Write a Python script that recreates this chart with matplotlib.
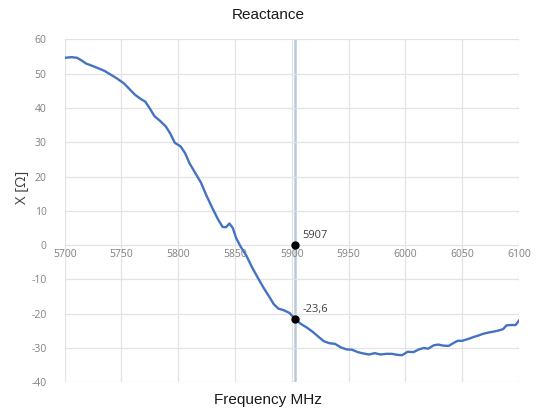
import matplotlib
matplotlib.use("Agg")
import matplotlib.pyplot as plt

freq = [5700, 5706, 5711, 5715, 5719, 5724, 5730, 5735, 5740, 5745, 5752, 5757, 5762, 5767,
        5771, 5775, 5779, 5784, 5789, 5793, 5797, 5802, 5806, 5810, 5815, 5820, 5825,
        5830, 5835, 5839, 5842, 5845, 5848, 5851, 5855, 5860, 5865, 5870, 5875, 5880,
        5884, 5888, 5893, 5898, 5903, 5908, 5913, 5918, 5923, 5928, 5933, 5938, 5943,
        5948, 5953, 5958, 5963, 5968, 5973, 5978, 5983, 5988, 5993, 5997, 6002, 6007,
        6012, 6016, 6020, 6025, 6029, 6033, 6038, 6042, 6046, 6050, 6055, 6060, 6064,
        6068, 6073, 6078, 6082, 6086, 6089, 6093, 6097, 6100]
reactance = [54.6, 54.8, 54.6, 53.8, 52.9, 52.3, 51.5, 50.8, 49.8, 48.8, 47.2, 45.5, 43.8, 42.6,
             41.8, 39.8, 37.6, 36.2, 34.6, 32.5, 29.8, 28.8, 26.8, 23.8, 21.0, 18.2, 14.3,
             10.8, 7.5, 5.3, 5.2, 6.3, 5.0, 2.0, -0.5, -3.1, -6.5, -9.5, -12.4, -15.0,
             -17.2, -18.5, -19.0, -19.8, -21.6, -23.0, -24.0, -25.2, -26.6, -28.0, -28.6,
             -28.8, -29.8, -30.4, -30.5, -31.2, -31.6, -31.9, -31.5, -31.9, -31.7, -31.7,
             -32.0, -32.1, -31.1, -31.2, -30.4, -30.0, -30.2, -29.2, -29.0, -29.3, -29.4,
             -28.6, -27.9, -27.9, -27.4, -26.8, -26.4, -25.9, -25.5, -25.2, -24.9, -24.5,
             -23.4, -23.3, -23.3, -22.0]

marker_freq = 5903
marker_points_y = [0, -21.6]
marker_labels = ["5907", "-23,6"]

x_ticks = [5700, 5750, 5800, 5850, 5900, 5950, 6000, 6050, 6100]
y_ticks = [-40, -30, -20, -10, 0, 10, 20, 30, 40, 50, 60]

plt.rcParams['font.family'] = ['Liberation Sans', 'DejaVu Sans']
plt.rcParams['axes.unicode_minus'] = False

fig = plt.figure(figsize=(5.36, 4.12), dpi=100)
ax = fig.add_axes([0.1207, 0.0721, 0.8476, 0.8325])

ax.set_xlim(5700, 6100)
ax.set_ylim(-40, 60)
ax.set_xticks(x_ticks)
ax.set_yticks(y_ticks)
ax.grid(True, color='#e3e3e3', linewidth=0.9, zorder=0)
for s in ax.spines.values():
    s.set_visible(False)
ax.spines['bottom'].set_position(('data', 0))
ax.tick_params(axis='both', length=0, labelsize=7.5, labelcolor='#808080')
ax.tick_params(axis='x', pad=3)
ax.tick_params(axis='y', pad=13)
for lbl in ax.get_xticklabels() + ax.get_yticklabels():
    lbl.set_family(['Open Sans', 'DejaVu Sans'])

ax.axvline(marker_freq, color='#b8c9dc', linewidth=1.8, zorder=1)
ax.plot(freq, reactance, color='#4472c4', linewidth=1.7, zorder=3,
        solid_joinstyle='round')
ax.plot([marker_freq] * len(marker_points_y), marker_points_y, 'o', color='black',
        markersize=5, zorder=4)
for yv, lab in zip(marker_points_y, marker_labels):
    ax.annotate(lab, (marker_freq, yv), xytext=(5, 5), textcoords='offset points',
                fontsize=8, color='#404040', family=['Open Sans', 'DejaVu Sans'])

fig.text(0.5, 0.963, "Reactance", ha='center', va='center', fontsize=11, color='#1a1a1a')
fig.text(0.5, 0.028, "Frequency MHz", ha='center', va='center', fontsize=11, color='#1a1a1a')
fig.text(0.042, 0.545, "X [Ω]", ha='center', va='center', rotation=90, fontsize=10.5,
         color='#404040', family=['Open Sans', 'DejaVu Sans'])

fig.savefig("out.png", dpi=100)
